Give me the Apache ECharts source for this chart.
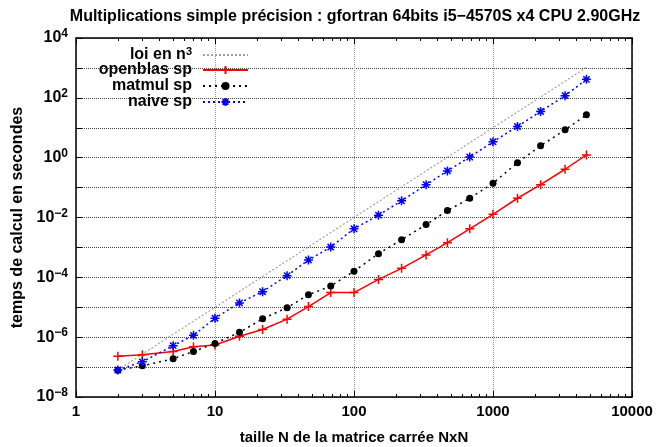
<!DOCTYPE html>
<html>
<head>
<meta charset="utf-8">
<script src="https://cdn.jsdelivr.net/npm/echarts@6/dist/echarts.min.js"></script>
<style>html,body{margin:0;padding:0;background:#fff}#c{width:657px;height:447px}</style>
</head>
<body>
<div id="c"></div>
<script>
// ---- data ----
const sizes = [2,3,5,7,10,15,22,33,47,68,100,150,220,330,470,680,1000,1500,2200,3300,4700];
const loiN3 = [8e-8,2.7e-7,1.25e-6,3.43e-6,1e-5,3.38e-5,1.06e-4,3.59e-4,1.04e-3,3.14e-3,1e-2,3.38e-2,0.106,0.359,1.04,3.14,10,33.8,106,359,1040];
const openblas = [2.3e-7,2.6e-7,3.3e-7,4.8e-7,5.5e-7,1.07e-6,1.8e-6,4.0e-6,1.05e-5,3.1e-5,3.1e-5,8.5e-5,2.0e-4,5.6e-4,1.44e-3,4.2e-3,1.28e-2,4.4e-2,0.125,0.41,1.23];
const matmul = [7.9e-8,1.1e-7,1.9e-7,3.3e-7,6.2e-7,1.45e-6,4.1e-6,9.7e-6,2.6e-5,5.1e-5,1.6e-4,6.2e-4,1.8e-3,5.8e-3,1.7e-2,4.4e-2,0.14,0.68,2.5,8.5,27];
const naive = [8e-8,1.5e-7,5.2e-7,1.15e-6,4.3e-6,1.4e-5,3.3e-5,1.14e-4,3.8e-4,1.03e-3,4.2e-3,1.2e-2,3.6e-2,0.125,0.36,1.05,3.4,11,35,118,415];
const seriesNames = ['loi en n3','openblas sp','matmul sp','naive sp'];
const xMajor = [1,10,100,1000,10000];
const xMinor = [2,3,4,5,6,7,8,9,20,30,40,50,60,70,80,90,200,300,400,500,600,700,800,900,2000,3000,4000,5000,6000,7000,8000,9000];
const yMajor = [1e-8,1e-7,1e-6,1e-5,1e-4,1e-3,1e-2,1e-1,1,10,100,1000,10000];
const yLabels = [1e-8,1e-6,1e-4,1e-2,1,100,10000];
const title = 'Multiplications simple précision : gfortran 64bits i5\u22124570S x4 CPU 2.90GHz';
const xName = 'taille N de la matrice carrée NxN';
const yName = 'temps de calcul en secondes';

const FONT = '"Liberation Sans", Arial, sans-serif';
const pair = (ys) => sizes.map((n, i) => [n, ys[i]]);
const plusSym = 'path://M0,5L10,5M5,0L5,10';
const starSym = 'path://M0,5L10,5M5,0L5,10M1.5,1.5L8.5,8.5M1.5,8.5L8.5,1.5';

const chart = echarts.init(document.getElementById('c'), null, {renderer: 'canvas'});
const logX = (extra) => Object.assign({type: 'log', logBase: 10, min: 1, max: 10000, gridIndex: 0}, extra);
const logY = (extra) => Object.assign({type: 'log', logBase: 10, min: 1e-8, max: 1e4, gridIndex: 0}, extra);
const frameLine = {show: true, onZero: false, lineStyle: {color: '#000', width: 1.5}};

const legendTops = [46, 62, 78, 94];
const legends = seriesNames.map((nm, i) => {
  const lg = {
    data: [nm], right: 408, top: legendTops[i], orient: 'vertical', align: 'right',
    padding: 0, itemWidth: 45, itemHeight: 10, selectedMode: false,
    formatter: (name) => name === 'loi en n3' ? '{t|loi en n}{s|3}' : '{t|' + name + '}',
    textStyle: {
      padding: [0, 6, 0, 0],
      rich: {
        t: {fontFamily: FONT, fontWeight: 'bold', fontSize: 16, color: '#000', lineHeight: 18},
        s: {fontFamily: FONT, fontWeight: 'bold', fontSize: 11, color: '#000', verticalAlign: 'top', lineHeight: 11}
      }
    }
  };
  if (i === 0) lg.itemStyle = {opacity: 0};
  return lg;
});

const option = {
  animation: false,
  backgroundColor: '#fff',
  title: {
    text: title, left: 350, top: 4, textAlign: 'center',
    textStyle: {fontFamily: FONT, fontWeight: 'bold', fontSize: 16, color: '#000'}
  },
  grid: {left: 76, right: 25, top: 38, bottom: 50, containLabel: false, outerBoundsMode: 'none'},
  legend: legends,
  xAxis: [
    logX({position: 'bottom', axisLine: frameLine,
      axisTick: {show: true, inside: true, length: 6, customValues: xMajor, lineStyle: {color: '#000', width: 1}},
      axisLabel: {show: true, customValues: xMajor, margin: 7, formatter: (v) => String(Math.round(v)),
        fontFamily: FONT, fontWeight: 'bold', fontSize: 15, color: '#000'},
      splitLine: {show: true, lineStyle: {color: '#999', type: 'dotted', width: 1}},
      name: xName, nameLocation: 'middle', nameGap: 33,
      nameTextStyle: {fontFamily: FONT, fontWeight: 'bold', fontSize: 15, color: '#000'}}),
    logX({position: 'bottom', axisLine: {show: false},
      axisTick: {show: true, inside: true, length: 3, customValues: xMinor, lineStyle: {color: '#000', width: 1}},
      axisLabel: {show: false}, splitLine: {show: false}}),
    logX({position: 'top', axisLine: frameLine,
      axisTick: {show: true, inside: true, length: 6, customValues: xMajor, lineStyle: {color: '#000', width: 1}},
      axisLabel: {show: false}, splitLine: {show: false}}),
    logX({position: 'top', axisLine: {show: false},
      axisTick: {show: true, inside: true, length: 3, customValues: xMinor, lineStyle: {color: '#000', width: 1}},
      axisLabel: {show: false}, splitLine: {show: false}})
  ],
  yAxis: [
    logY({position: 'left', axisLine: frameLine,
      axisTick: {show: true, inside: true, length: 6, customValues: yMajor, lineStyle: {color: '#000', width: 1}},
      axisLabel: {show: true, customValues: yLabels, margin: 8,
        formatter: (v) => {
          const e = Math.round(Math.log10(v));
          return '{b|10}{e|' + (e < 0 ? '\u2212' + (-e) : String(e)) + '}';
        },
        rich: {
          b: {fontFamily: FONT, fontWeight: 'bold', fontSize: 16, color: '#000', lineHeight: 16, verticalAlign: 'bottom'},
          e: {fontFamily: FONT, fontWeight: 'bold', fontSize: 12, color: '#000', lineHeight: 12, padding: [0, 0, 8, 0]}
        }},
      splitLine: {show: true, lineStyle: {color: '#444', type: 'dotted', width: 1}},
      name: yName, nameLocation: 'middle', nameGap: 48, nameRotate: 90,
      nameTextStyle: {fontFamily: FONT, fontWeight: 'bold', fontSize: 16, color: '#000'}}),
    logY({position: 'right', axisLine: frameLine,
      axisTick: {show: true, inside: true, length: 6, customValues: yMajor, lineStyle: {color: '#000', width: 1}},
      axisLabel: {show: false}, splitLine: {show: false}})
  ],
  series: [
    {name: seriesNames[0], type: 'line', data: pair(loiN3), symbol: 'none', z: 3,
      lineStyle: {color: '#a0a0a0', width: 1.2, type: [2, 2]}, itemStyle: {color: '#a0a0a0'}},
    {name: seriesNames[1], type: 'line', data: pair(openblas), symbol: plusSym, symbolSize: 9, z: 4,
      lineStyle: {color: '#ff0000', width: 1.5, type: 'solid'},
      itemStyle: {color: '#ff0000', borderColor: '#ff0000', borderWidth: 1.5}},
    {name: seriesNames[2], type: 'line', data: pair(matmul), symbol: 'circle', symbolSize: 7, z: 4,
      lineStyle: {color: '#000', width: 1.5, type: [2, 4]},
      itemStyle: {color: '#000', borderWidth: 0}},
    {name: seriesNames[3], type: 'line', data: pair(naive), symbol: starSym, symbolSize: 9, z: 4,
      lineStyle: {color: '#0000ff', width: 1.5, type: [2, 3]},
      itemStyle: {color: '#0000ff', borderColor: '#0000ff', borderWidth: 1.5}}
  ]
};
chart.setOption(option);
</script>
</body>
</html>
